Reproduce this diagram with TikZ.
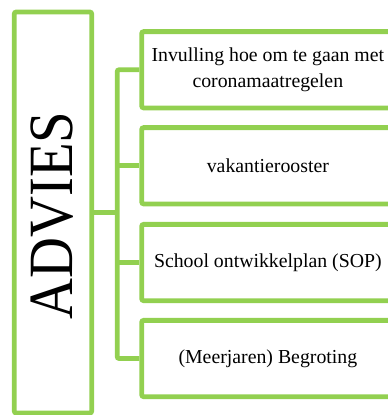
\documentclass[tikz,border=0pt]{standalone}
\usepackage{fontspec}
\setmainfont{Liberation Serif}
\usepackage{graphicx}
\definecolor{lgreen}{HTML}{92D050}
\begin{document}
\begin{tikzpicture}[x=1pt,y=-1pt,
  box/.style={draw=lgreen,line width=4.8pt,rounded corners=2pt,inner sep=0pt},
  itembox/.style={box,minimum width=252.3pt,minimum height=76.3pt,align=center,
    font=\fontsize{19.8}{26.6}\selectfont},
  link/.style={draw=lgreen,line width=4.8pt,rounded corners=2pt}]
\useasboundingbox (0,0) rectangle (388,415);
\node[box,minimum width=77.4pt,minimum height=401pt] (advies) at (53,212.5) {};
\node[rotate=90,inner sep=0pt] (adviestext) at (52.5,215.5)
  {\scalebox{0.9}[1]{\fontsize{63}{63}\selectfont ADVIES}};
\node[itembox] (b1) at (267.85,69.75) {Invulling hoe om te gaan met\\coronamaatregelen};
\node[itembox] (b2) at (267.85,165.75) {vakantierooster};
\node[itembox] (b3) at (267.85,262.5) {School ontwikkelplan (SOP)};
\node[itembox] (b4) at (267.85,358.5) {(Meerjaren) Begroting};
\coordinate (spine) at (117.2,0);
\draw[link] (advies.east) -- (advies.east -| spine);
\draw[link] (b1.west) -- (b1.west -| spine) -- (b4.west -| spine) -- (b4.west);
\draw[link] (b2.west) -- (b2.west -| spine);
\draw[link] (b3.west) -- (b3.west -| spine);
\end{tikzpicture}
\end{document}
